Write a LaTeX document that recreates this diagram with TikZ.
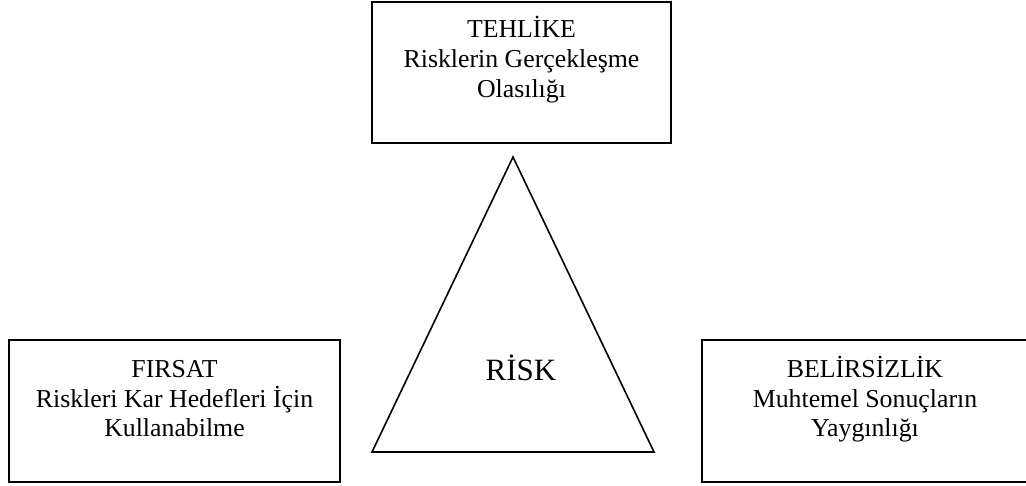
\documentclass[tikz,border=0pt]{standalone}
\usepackage{fontspec}
\setmainfont{Liberation Serif}
\begin{document}
\begin{tikzpicture}[x=1pt,y=-1pt,
  frame/.style={draw=black,line width=2pt,inner sep=0pt},
  boxtext/.style={anchor=base,inner sep=0pt,font=\fontsize{25.8}{30}\selectfont},
  risktext/.style={anchor=base,inner sep=0pt,font=\fontsize{31}{36}\selectfont}]
  \useasboundingbox (0,0) rectangle (1026,485);
  \clip (0,0) rectangle (1026,485);

  % the three boxes
  \node[frame,minimum width=299pt,minimum height=141pt] (top) at (521.5,72.5) {};
  \node[frame,minimum width=331pt,minimum height=142pt] (left) at (174.5,411) {};
  \node[frame,minimum width=330pt,minimum height=142pt] (right) at (867,411) {};

  % the triangle in the middle
  \coordinate (apex) at (513,157);
  \coordinate (bl) at (372,452);
  \coordinate (br) at (654,452);
  \draw[line width=1.6pt,line join=miter] (apex) -- (bl) -- (br) -- cycle;
  \node[risktext] (risk) at (521,380) {RİSK};

  % texts of the top box
  \node[boxtext] (t1) at (521.5,37) {TEHLİKE};
  \node[boxtext] (t2) at (521.5,67) {Risklerin Gerçekleşme};
  \node[boxtext] (t3) at (521.5,97) {Olasılığı};

  % texts of the left box
  \node[boxtext] (l1) at (174.5,377) {FIRSAT};
  \node[boxtext] (l2) at (174.5,407) {Riskleri Kar Hedefleri İçin};
  \node[boxtext] (l3) at (174.5,436) {Kullanabilme};

  % texts of the right box
  \node[boxtext] (r1) at (865,377) {BELİRSİZLİK};
  \node[boxtext] (r2) at (865,407) {Muhtemel Sonuçların};
  \node[boxtext] (r3) at (865,436) {Yaygınlığı};
\end{tikzpicture}
\end{document}
